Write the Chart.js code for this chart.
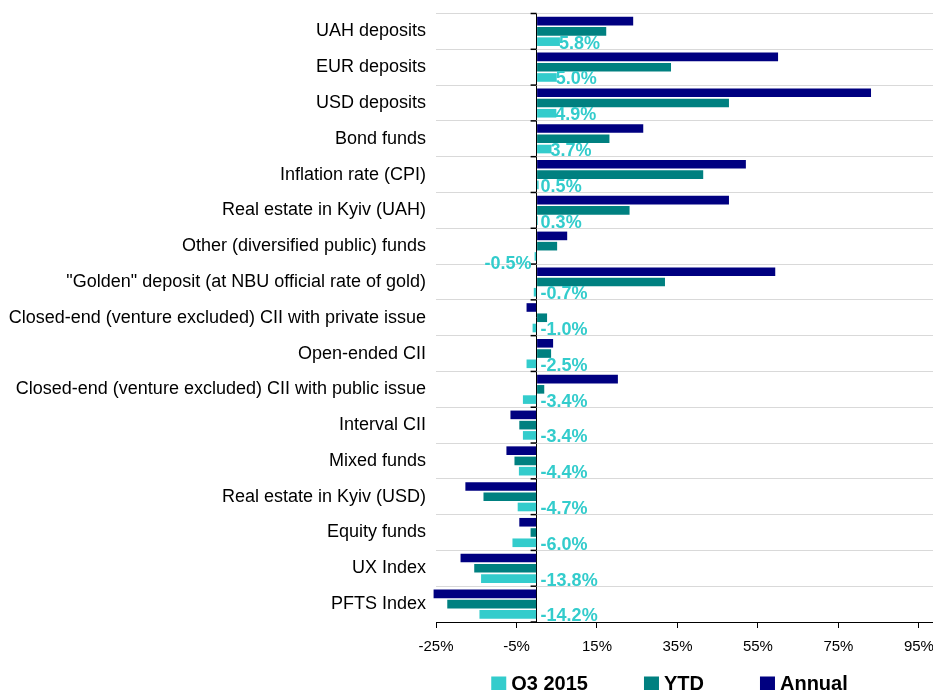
<!DOCTYPE html>
<html>
<head>
<meta charset="utf-8">
<script src="https://cdn.jsdelivr.net/npm/chart.js@4.4.1/dist/chart.umd.min.js"></script>
<style>
  html, body { margin: 0; padding: 0; background: #ffffff; }
  #wrap { width: 933px; height: 690px; }
</style>
</head>
<body>
<div id="wrap"><canvas id="c" width="933" height="690"></canvas></div>
<script>
const categories = [
  'UAH deposits',
  'EUR deposits',
  'USD deposits',
  'Bond funds',
  'Inflation rate (CPI)',
  'Real estate in Kyiv (UAH)',
  'Other (diversified public) funds',
  '"Golden" deposit (at NBU official rate of gold)',
  'Closed-end (venture excluded) CII with private issue',
  'Open-ended CII',
  'Closed-end (venture excluded) CII with public issue',
  'Interval CII',
  'Mixed funds',
  'Real estate in Kyiv (USD)',
  'Equity funds',
  'UX Index',
  'PFTS Index'
];
const q3Values     = [5.8, 5.0, 4.9, 3.7, 0.5, 0.3, -0.5, -0.7, -1.0, -2.5, -3.4, -3.4, -4.4, -4.7, -6.0, -13.8, -14.2];
const ytdValues    = [17.3, 33.4, 47.8, 18.1, 41.4, 23.1, 5.1, 31.9, 2.6, 3.6, 1.9, -4.3, -5.5, -13.2, -1.5, -15.5, -22.2];
const annualValues = [24.0, 60.0, 83.1, 26.5, 52.0, 47.8, 7.6, 59.3, -2.5, 4.1, 20.2, -6.5, -7.5, -17.7, -4.3, -18.9, -25.6];
const xTickValues  = [-25, -5, 15, 35, 55, 75, 95];
const seriesNames  = ['Q3 2015', 'YTD', 'Annual'];

const COL_Q3 = '#33CCCC';
const COL_YTD = '#008080';
const COL_ANN = '#000080';
const FONT = "'Liberation Sans', Arial, Helvetica, sans-serif";
const labelsLeftOfAxis = ['Other (diversified public) funds'];

function noScalePadding(s) {
  s.paddingTop = 0; s.paddingBottom = 0; s.paddingLeft = 0; s.paddingRight = 0;
}

// Data labels for the Q3 series
const q3LabelPlugin = {
  id: 'q3Labels',
  afterDatasetsDraw(chart) {
    const ctx = chart.ctx;
    const dsIndex = chart.data.datasets.findIndex(d => d.label === seriesNames[0]);
    const meta = chart.getDatasetMeta(dsIndex);
    const zero = chart.scales.x.getPixelForValue(0);
    ctx.save();
    ctx.font = 'bold 18px ' + FONT;
    ctx.fillStyle = COL_Q3;
    ctx.textBaseline = 'middle';
    meta.data.forEach((el, i) => {
      const v = q3Values[i];
      const txt = v.toFixed(1) + '%';
      let x, y = el.y + 2, align = 'left';
      if (labelsLeftOfAxis.includes(categories[i])) {
        x = zero - 5; align = 'right'; y = el.y + 8;
      } else if (v >= 0) {
        x = Math.max(el.x - 1, zero + 4);
      } else {
        x = zero + 4;
      }
      ctx.textAlign = align;
      ctx.fillText(txt, x, y);
    });
    ctx.restore();
  }
};

// Small tick marks on the zero line at each category boundary
const zeroTicksPlugin = {
  id: 'zeroTicks',
  afterDatasetsDraw(chart) {
    const ctx = chart.ctx;
    const xs = chart.scales.x, ys = chart.scales.y;
    const zero = xs.getPixelForValue(0);
    const n = categories.length;
    ctx.save();
    ctx.strokeStyle = '#000';
    ctx.lineWidth = 1.5;
    for (let i = 0; i <= n; i++) {
      const y = ys.getPixelForValue(i - 0.5);
      ctx.beginPath();
      ctx.moveTo(zero - 6, y);
      ctx.lineTo(zero, y);
      ctx.stroke();
    }
    ctx.restore();
  }
};

// Legend drawn at the bottom
const legendPlugin = {
  id: 'bottomLegend',
  afterDraw(chart) {
    const ctx = chart.ctx;
    const area = chart.chartArea;
    const order = seriesNames.map(n => chart.data.datasets.find(d => d.label === n));
    const box = 15, gapText = 5, gapItem = 56;
    ctx.save();
    ctx.font = 'bold 20px ' + FONT;
    const widths = order.map(d => box + gapText + ctx.measureText(d.label).width);
    const total = widths.reduce((a, b) => a + b, 0) + gapItem * (order.length - 1);
    let x = area.left + (area.right - area.left - total) / 2 - 15;
    const baseY = chart.height;
    order.forEach((d, i) => {
      ctx.fillStyle = d.backgroundColor;
      ctx.fillRect(x, baseY - 13.5, box, box);
      ctx.fillStyle = '#000';
      ctx.textAlign = 'left';
      ctx.textBaseline = 'alphabetic';
      ctx.fillText(d.label, x + box + gapText, baseY - 0.5);
      x += widths[i] + gapItem;
    });
    ctx.restore();
  }
};

new Chart(document.getElementById('c'), {
  type: 'bar',
  data: {
    labels: categories,
    datasets: [
      { label: seriesNames[2], data: annualValues, backgroundColor: COL_ANN, clip: false },
      { label: seriesNames[1], data: ytdValues, backgroundColor: COL_YTD, clip: false },
      { label: seriesNames[0], data: q3Values, backgroundColor: COL_Q3, clip: false }
    ]
  },
  options: {
    indexAxis: 'y',
    responsive: false,
    animation: false,
    devicePixelRatio: 1,
    categoryPercentage: 0.86,
    barPercentage: 0.84,
    layout: { padding: { top: 13.5, right: 0, bottom: 0, left: 0 } },
    plugins: {
      legend: { display: false },
      tooltip: { enabled: false },
      title: { display: false }
    },
    scales: {
      x: {
        type: 'linear',
        min: -25,
        max: 98.5,
        afterBuildTicks: (s) => {
          s.ticks = [...xTickValues, 0].sort((a, b) => a - b).map(v => ({ value: v }));
        },
        afterFit: (s) => { s.height = 68; noScalePadding(s); },
        border: { display: true, color: '#000', width: 1 },
        grid: {
          drawOnChartArea: true,
          drawTicks: true,
          tickLength: 6,
          lineWidth: 1,
          color: (c) => (c.tick && c.tick.value === 0) ? '#000' : 'rgba(0,0,0,0)',
          tickColor: (c) => (c.tick && c.tick.value === 0) ? 'rgba(0,0,0,0)' : '#000'
        },
        ticks: {
          autoSkip: false,
          maxRotation: 0,
          padding: 10,
          color: '#000',
          font: { family: FONT, size: 15 },
          callback: (v) => v === 0 ? '' : v + '%'
        }
      },
      y: {
        type: 'category',
        afterFit: (s) => { s.width = 436; noScalePadding(s); },
        border: { display: false },
        grid: {
          offset: true,
          drawTicks: false,
          color: '#d9d9d9',
          lineWidth: 1
        },
        ticks: {
          autoSkip: false,
          padding: 10,
          color: '#000',
          font: { family: FONT, size: 18 }
        }
      }
    }
  },
  plugins: [zeroTicksPlugin, q3LabelPlugin, legendPlugin]
});
</script>
</body>
</html>
